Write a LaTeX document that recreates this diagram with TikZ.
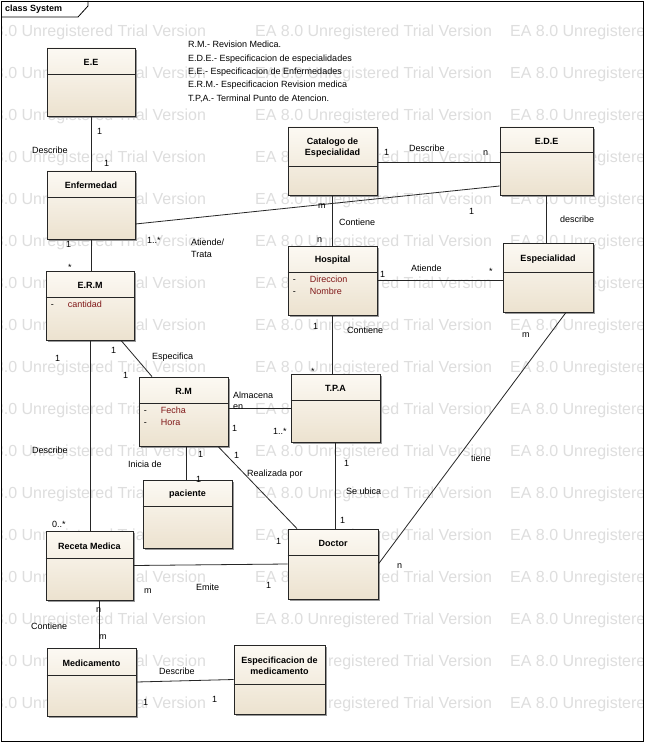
\documentclass[tikz,border=0pt]{standalone}
\usepackage{fontspec}
\setmainfont{Liberation Sans}
\usetikzlibrary{shadows}
\definecolor{boxtop}{RGB}{252,249,243}
\definecolor{boxbot}{RGB}{236,226,207}
\definecolor{attrc}{RGB}{128,24,24}
\definecolor{wm}{RGB}{222,222,222}
\tikzset{
  cls/.style={draw=black!85, line width=0.8pt, top color=boxtop, bottom color=boxbot,
    drop shadow={shadow xshift=2pt, shadow yshift=-2pt, fill=black!40, opacity=1}},
  ttl/.style={font=\fontsize{9}{11}\selectfont\bfseries, align=center, inner sep=0pt},
  attr/.style={font=\fontsize{9}{12.5}\selectfont, align=left, inner sep=0pt},
  lbl/.style={font=\fontsize{9}{11}\selectfont, inner sep=0pt, anchor=west},
  conn/.style={draw=black!85, line width=0.8pt},
  wmk/.style={font=\fontsize{16}{18}\selectfont, text=wm, anchor=west, inner sep=0pt}
}
\newcommand\umlclass[8]{%
  \node[cls, minimum width=#4pt, minimum height=#5pt, inner sep=0pt] (#1) at (#2,#3) {};
  \draw[line width=0.8pt, draw=black!85] ([yshift=-#6pt]#1.north west) -- ([yshift=-#6pt]#1.north east);
  \node[ttl] at ([yshift=-#6pt/2-1.5pt]#1.north) {#7};
  \node[attr, anchor=north west] at ([xshift=5pt,yshift=-#6pt-3pt]#1.north west) {#8};
}
\newcommand\at[1]{-\hspace{14pt}\textcolor{attrc}{#1}}
\begin{document}
\begin{tikzpicture}[x=1pt,y=-1pt]
\useasboundingbox (0,0) rectangle (645,743);
\fill[white] (0,0) rectangle (645,743);
% watermark
\begin{scope}
\clip (1,18) rectangle (643,741);
\foreach \k in {0,...,16}{
  \foreach \xx in {-31,255,510}{
    \node[wmk] at (\xx,{32+42*\k}) {EA 8.0 Unregistered Trial Version};
  }
}
\end{scope}
% frame
\draw[line width=0.8pt] (1,1) rectangle (643,741);
\draw[line width=0.8pt] (1,17) -- (78,17) -- (88,6) -- (88,1);
\node[ttl, anchor=west] at (5,9) {class System};
% legend
\node[attr, anchor=north west, font=\fontsize{9}{13.4}\selectfont] at (188,41) {R.M.- Revision Medica.\\E.D.E.- Especificacion de especialidades\\E.E.- Especificacion de Enfermedades\\E.R.M.- Especificacion Revision medica\\T.P,A.- Terminal Punto de Atencion.};
\umlclass{ee}{91}{82}{88}{68}{27}{E.E}{}
\umlclass{enf}{91}{205}{88}{68}{27}{Enfermedad}{}
\umlclass{cat}{332.5}{161}{89}{68}{40}{Catalogo de\\Especialidad}{}
\umlclass{ede}{546.5}{161}{93}{68}{26}{E.D.E}{}
\umlclass{hosp}{332.5}{280.5}{89}{69}{27}{Hospital}{\at{Direccion}\\\at{Nombre}}
\umlclass{esp}{548}{277.5}{90}{69}{30}{Especialidad}{}
\umlclass{erm}{90}{305.5}{88}{69}{27}{E.R.M}{\at{cantidad}}
\umlclass{rm}{183.5}{411.5}{89}{69}{27}{R.M}{\at{Fecha}\\\at{Hora}}
\umlclass{tpa}{335.5}{408}{89}{68}{27}{T.P.A}{}
\umlclass{pac}{187.5}{514}{89}{68}{27}{paciente}{}
\umlclass{rec}{89.5}{565.5}{87}{69}{28}{Receta Medica}{}
\umlclass{doc}{333}{564}{90}{70}{27}{Doctor}{}
\umlclass{med}{91.5}{682}{89}{68}{28}{Medicamento}{}
\umlclass{spec}{279.5}{679.5}{91}{69}{40}{Especificacion de\\medicamento}{}
% connectors
\draw[conn] (ee.south) -- (enf.north);
\draw[conn] ([yshift=-19pt]enf.east) -- ([yshift=-25pt]ede.west);
\draw[conn] (enf.south) -- (enf.south |- erm.north);
\draw[conn] ([yshift=-1pt]cat.east) -- ([yshift=-1pt]ede.west);
\draw[conn] (cat.south) -- (hosp.north);
\draw[conn] (ede.south) -- (ede.south |- esp.north);
\draw[conn] (hosp.east) -- (hosp.east -| esp.west);
\draw[conn] (hosp.south) -- (hosp.south |- tpa.north);
\draw[conn] ([xshift=18pt]esp.south) -- (doc.east);
\draw[conn] ([xshift=31pt]erm.south) -- ([xshift=-31.5pt]rm.north);
\draw[conn] (erm.south) -- (erm.south |- rec.north);
\draw[conn] ([yshift=3.5pt]rm.east) -- (tpa.west);
\draw[conn] ([xshift=2.5pt]rm.south) -- ([xshift=-1.5pt]pac.north);
\draw[conn] ([xshift=34.5pt]rm.south) -- ([xshift=-36pt]doc.north);
\draw[conn] (tpa.south) -- ([xshift=2.5pt]doc.north);
\draw[conn] (rec.east) -- (doc.west);
\draw[conn] ([xshift=9.5pt]rec.south) -- ([xshift=7.5pt]med.north);
\draw[conn] (med.east) -- (spec.west);
% labels
\node[lbl] at (97,131) {1};
\node[lbl] at (104,163) {1};
\node[lbl] at (32,150) {Describe};
\node[lbl] at (147,240) {1..*};
\node[lbl] at (191,242) {Atiende/};
\node[lbl] at (191,254) {Trata};
\node[lbl] at (469,211) {1};
\node[lbl] at (66,244) {1};
\node[lbl] at (68,267) {*};
\node[lbl] at (384,152) {1};
\node[lbl] at (409,148) {Describe};
\node[lbl] at (483,153) {n};
\node[lbl] at (318,206) {m};
\node[lbl] at (339,222) {Contiene};
\node[lbl] at (317,240) {n};
\node[lbl] at (560,219) {describe};
\node[lbl] at (380,274) {1};
\node[lbl] at (411,268) {Atiende};
\node[lbl] at (489,271) {*};
\node[lbl] at (313,326) {1};
\node[lbl] at (347,330) {Contiene};
\node[lbl] at (311,371) {*};
\node[lbl] at (522,335) {m};
\node[lbl] at (471,458) {tiene};
\node[lbl] at (397,566) {n};
\node[lbl] at (111,350) {1};
\node[lbl] at (152,357) {Especifica};
\node[lbl] at (123,375) {1};
\node[lbl] at (55,358) {1};
\node[lbl] at (32,450) {Describe};
\node[lbl] at (52,524) {0..*};
\node[lbl] at (233,395) {Almacena};
\node[lbl] at (233,407) {en};
\node[lbl] at (232,428) {1};
\node[lbl] at (273,431) {1..*};
\node[lbl] at (198,454) {1};
\node[lbl] at (128,464) {Inicia de};
\node[lbl] at (196,479) {1};
\node[lbl] at (234,455) {1};
\node[lbl] at (247,474) {Realizada por};
\node[lbl] at (276,541) {1};
\node[lbl] at (344,463) {1};
\node[lbl] at (346,491) {Se ubica};
\node[lbl] at (340,520) {1};
\node[lbl] at (144,591) {m};
\node[lbl] at (196,587) {Emite};
\node[lbl] at (266,585) {1};
\node[lbl] at (96,610) {n};
\node[lbl] at (31,626) {Contiene};
\node[lbl] at (99,637) {m};
\node[lbl] at (159,671) {Describe};
\node[lbl] at (143,702) {1};
\node[lbl] at (212,699) {1};
\end{tikzpicture}
\end{document}
